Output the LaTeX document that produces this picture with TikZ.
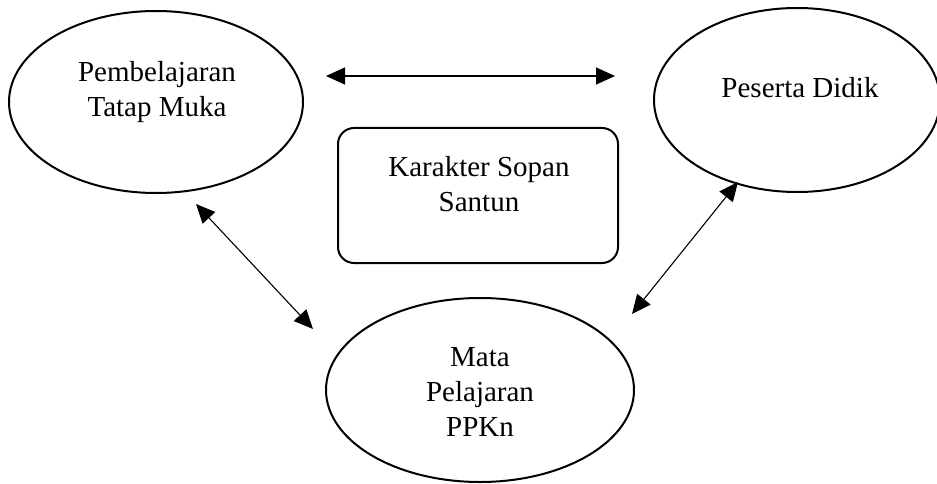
\documentclass[tikz,border=0pt]{standalone}
\usepackage{fontspec}
\setmainfont{Liberation Serif}
\usetikzlibrary{shapes.geometric,arrows.meta}
\begin{document}
\begin{tikzpicture}[x=1pt,y=-1pt,
  oval/.style={draw,ellipse,line width=2pt,inner sep=0pt},
  lbl/.style={align=center,font=\fontsize{29}{35}\selectfont,inner sep=0pt},
  box/.style={draw,rounded corners=16pt,line width=2pt},
  link/.style={line width=1.1pt,{Triangle[length=19pt,width=17pt]}-{Triangle[length=19pt,width=17pt]}}]
\useasboundingbox (0,0) rectangle (937,484);
\node[oval,minimum width=294pt,minimum height=182pt] (ptm) at (156,102) {};
\node[lbl] (ptmt) at (157,92.5) {Pembelajaran\\Tatap Muka};
\node[oval,minimum width=286pt,minimum height=184pt] (pd) at (797,100) {};
\node[lbl] (pdt) at (800,88) {Peserta Didik};
\node[oval,minimum width=308pt,minimum height=184pt] (mp) at (480,390) {};
\node[lbl] (mpt) at (480,392.5) {Mata\\Pelajaran\\PPKn};
\node[box,minimum width=280pt,minimum height=135pt] (ks) at (478,195.5) {};
\node[lbl] (kst) at (479,184.5) {Karakter Sopan\\Santun};
\coordinate (a1) at (326,76);
\coordinate (a2) at (615,76);
\coordinate (b1) at (196,204);
\coordinate (b2) at (313,329);
\coordinate (c1) at (738,182);
\coordinate (c2) at (632,314);
\draw[link] (a1) -- (a2);
\draw[link] (b1) -- (b2);
\draw[link] (c1) -- (c2);
\end{tikzpicture}
\end{document}
